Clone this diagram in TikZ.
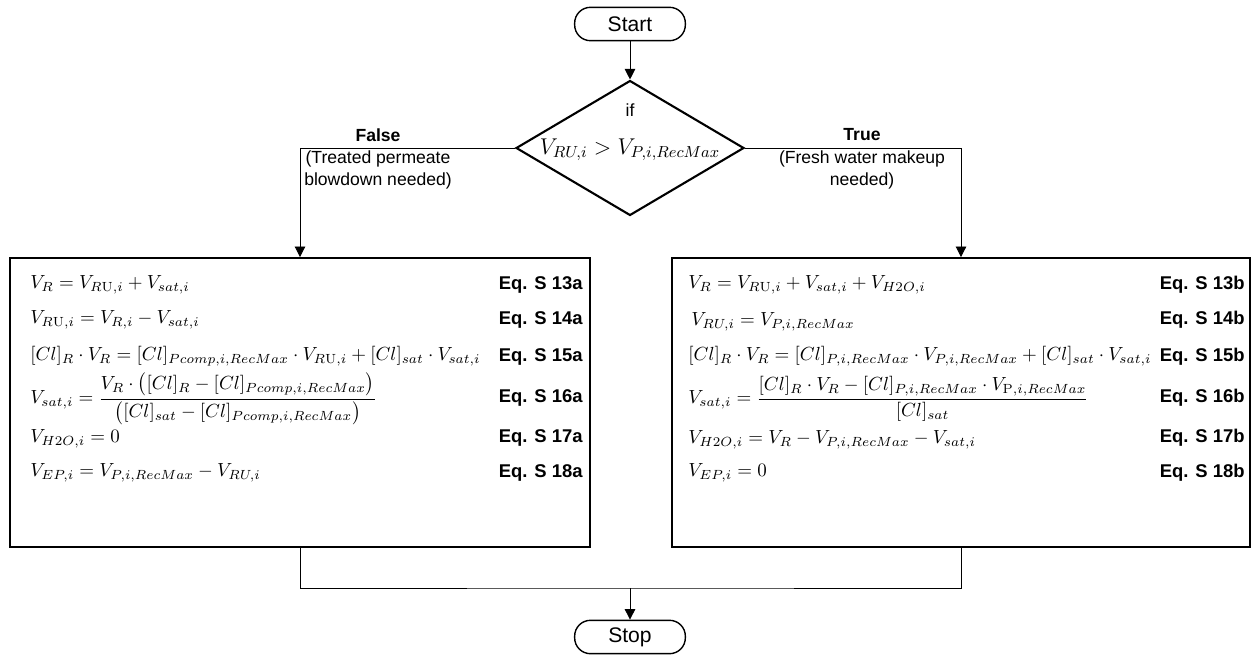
\RequirePackage{fix-cm}
\documentclass[tikz,border=0pt]{standalone}
\usepackage[no-math]{fontspec}
\setmainfont{Liberation Sans}
\usepackage{amsmath}
\usetikzlibrary{arrows.meta,shapes.geometric}

\tikzset{
  terminal/.style={draw, line width=0.8pt, rounded corners=9pt, minimum width=63pt,
    minimum height=19pt, inner sep=0pt, font=\fontsize{12}{14}\selectfont},
  decision/.style={draw, diamond, line width=1.2pt, minimum width=4.56cm,
    minimum height=2.7cm, inner sep=0pt},
  eqbox/.style={draw, line width=1.1pt, inner sep=0pt, minimum height=5.78cm},
  eqn/.style={anchor=west, inner sep=0pt, font=\fontsize{10.8}{13}\selectfont},
  eqtag/.style={anchor=east, inner sep=0pt, font=\fontsize{10.5}{12}\selectfont\bfseries},
  branch/.style={align=center, inner sep=0pt, font=\fontsize{10}{12.4}\selectfont},
  flow/.style={line width=0.5pt},
  arrow/.style={flow, -{Triangle[length=6pt,width=6pt]}}
}

\begin{document}
\begin{tikzpicture}[x=0.02cm, y=-0.02cm]
  \useasboundingbox (0,0) rectangle (1252,659);

  % start and test
  \node[terminal] (start) at (630,24) {Start};
  \node[decision] (cond) at (630,148) {};
  \node[branch] (condif) at (630,110) {if};
  \node[inner sep=0pt, font=\fontsize{13}{15}\selectfont] (condeq) at (630,150)
    {$V_{RU,i} > V_{P,i,RecMax}$};
  \draw[arrow] (start) -- (cond);

  \node[branch, font=\fontsize{10}{12}\selectfont\bfseries] (lblF) at (378,135) {False};
  \node[branch] (noteF) at (378,170) {(Treated permeate\\blowdown needed)};
  \node[branch, font=\fontsize{10}{12}\selectfont\bfseries] (lblT) at (862,135) {True};
  \node[branch] (noteT) at (862,170) {(Fresh water makeup\\needed)};

  % equation boxes
  \node[eqbox, minimum width=11.6cm] (boxF) at (300,402.5) {};
  \node[eqbox, minimum width=11.56cm] (boxT) at (961,402.5) {};
  \draw[arrow] (cond.west) -| (boxF.north);
  \draw[arrow] (cond.east) -| (boxT.north);

  % false branch
  \node[eqn] (eqa1) at (30,285) {$V_R = V_{R\mathrm{U},i} + V_{sat,i}$};
  \node[eqn] (eqa2) at (30,320) {$V_{R\mathrm{U},i} = V_{R,i} - V_{sat,i}$};
  \node[eqn] (eqa3) at (30,356)
    {$[Cl]_R \cdot V_R = [Cl]_{Pcomp,i,RecMax} \cdot V_{R\mathrm{U},i} + [Cl]_{sat} \cdot V_{sat,i}$};
  \node[eqn] (eqa4) at (30,399)
    {$V_{sat,i} = \dfrac{V_R \cdot \bigl([Cl]_R - [Cl]_{Pcomp,i,RecMax}\bigr)}{\bigl([Cl]_{sat} - [Cl]_{Pcomp,i,RecMax}\bigr)}$};
  \node[eqn] (eqa5) at (30,439) {$V_{H2O,i} = 0$};
  \node[eqn] (eqa6) at (30,473) {$V_{EP,i} = V_{P,i,RecMax} - V_{RU,i}$};

  % true branch
  \node[eqn] (eqb1) at (688,285) {$V_R = V_{R\mathrm{U},i} + V_{sat,i} + V_{H2O,i}$};
  \node[eqn] (eqb2) at (691,322) {$V_{RU,i} = V_{P,i,RecMax}$};
  \node[eqn] (eqb3) at (688,356)
    {$[Cl]_R \cdot V_R = [Cl]_{P,i,RecMax} \cdot V_{P,i,RecMax} + [Cl]_{sat} \cdot V_{sat,i}$};
  \node[eqn] (eqb4) at (688,399)
    {$V_{sat,i} = \dfrac{[Cl]_R \cdot V_R - [Cl]_{P,i,RecMax} \cdot V_{\mathrm{P},i,RecMax}}{[Cl]_{sat}}$};
  \node[eqn] (eqb5) at (688,440) {$V_{H2O,i} = V_R - V_{P,i,RecMax} - V_{sat,i}$};
  \node[eqn] (eqb6) at (688,473) {$V_{EP,i} = 0$};

  \foreach \n/\y in {13/285, 14/320, 15/357, 16/398, 17/438, 18/473} {
    \node[eqtag] (taga\n) at (583,\y) {Eq. S \n a};
    \node[eqtag] (tagb\n) at (1245,\y) {Eq. S \n b};
  }

  % merge and stop
  \node[terminal] (stop) at (630,637) {Stop};
  \coordinate (join) at (630,588);
  \draw[flow] (boxF.south) |- (join) -| (boxT.south);
  \draw[arrow] (join) -- (stop);
\end{tikzpicture}
\end{document}
